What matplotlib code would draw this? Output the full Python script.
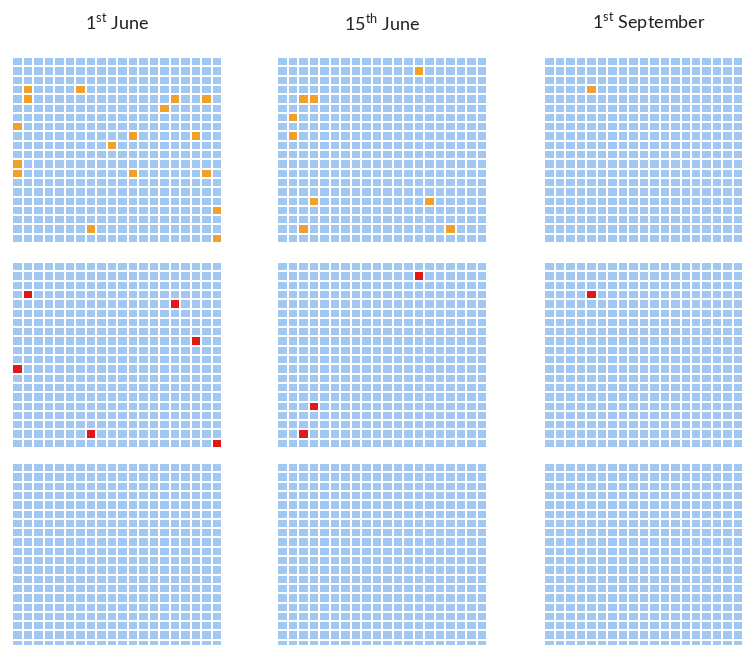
import numpy as np
import matplotlib.pyplot as plt
from matplotlib.colors import ListedColormap

plt.rcParams['font.family'] = ['Lato', 'DejaVu Sans']
plt.rcParams['mathtext.fontset'] = 'custom'
plt.rcParams['mathtext.rm'] = 'Lato'

dates = [r'1$^{\mathrm{st}}$ June', r'15$^{\mathrm{th}}$ June', r'1$^{\mathrm{st}}$ September']
n_rows, n_cols = 20, 20

# highlighted squares as (row, col), one list per date
orange_cells = [
    [(3, 1), (3, 6), (4, 1), (4, 15), (4, 18), (5, 14), (7, 0), (8, 11), (8, 17),
     (9, 9), (11, 0), (12, 0), (12, 11), (12, 18), (16, 19), (18, 7), (19, 19)],
    [(1, 13), (4, 2), (4, 3), (6, 1), (8, 1), (15, 3), (15, 14), (18, 2), (18, 16)],
    [(3, 4)],
]
red_cells = [
    [(3, 1), (4, 15), (8, 17), (11, 0), (18, 7), (19, 19)],
    [(1, 13), (15, 3), (18, 2)],
    [(3, 4)],
]
empty_cells = [[], [], []]

panel_rows = [(orange_cells, '#F0A02C'), (red_cells, '#E01818'), (empty_cells, '#F0A02C')]
blue = '#A0C8F2'

W, H = 743, 645
fig = plt.figure(figsize=(W / 100, H / 100), dpi=100)

col_left = [12, 277, 544]
row_top = [57, 262, 463]
gw, gh = 210, 186

for r, (cells, hl) in enumerate(panel_rows):
    cmap = ListedColormap([blue, hl])
    for c in range(3):
        grid = np.zeros((n_rows, n_cols))
        for (i, j) in cells[c]:
            grid[i, j] = 1
        ax = fig.add_axes([col_left[c] / W, 1 - (row_top[r] + gh) / H, gw / W, gh / H])
        ax.pcolormesh(grid, cmap=cmap, vmin=0, vmax=1, edgecolors='white', linewidth=1.3)
        ax.set_xlim(0, n_cols)
        ax.set_ylim(n_rows, 0)
        ax.axis('off')

for c in range(3):
    fig.text((col_left[c] + gw / 2) / W, 1 - 22 / H, dates[c], ha='center', va='center',
             fontsize=13, color='#222222')

fig.savefig('out.png', dpi=100)
